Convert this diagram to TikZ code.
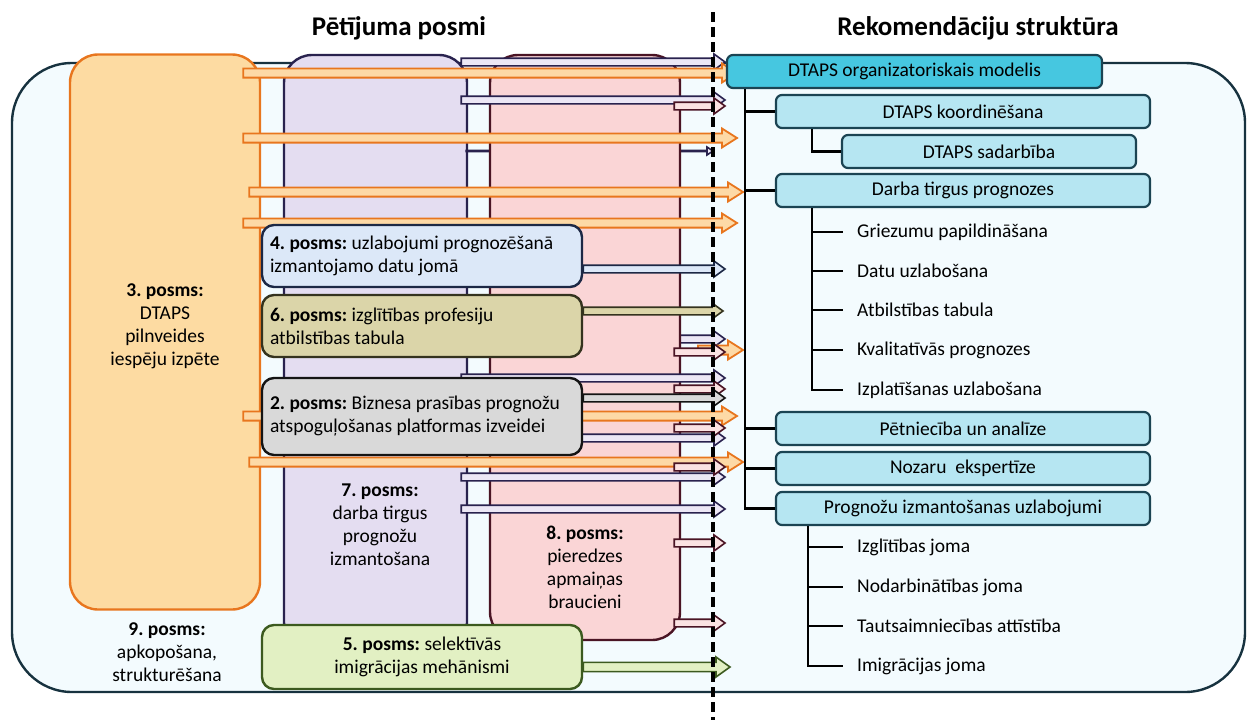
\documentclass[tikz,border=0pt]{standalone}
\usepackage{fontspec}
\setmainfont{Carlito}
\usetikzlibrary{calc,positioning}
\frenchspacing

\definecolor{outerF}{HTML}{F3FBFE}
\definecolor{outerB}{HTML}{17323F}
\definecolor{orangeB}{HTML}{E8761E}
\definecolor{orangeF}{HTML}{FDDBA2}
\definecolor{orangeA}{HTML}{FDD9A6}
\definecolor{lilacF}{HTML}{E4DDF1}
\definecolor{lilacB}{HTML}{29224E}
\definecolor{pinkF}{HTML}{FAD5D6}
\definecolor{pinkB}{HTML}{4A1424}
\definecolor{blueF}{HTML}{DCE8F8}
\definecolor{blueB}{HTML}{1C2845}
\definecolor{khakiF}{HTML}{DBD5A9}
\definecolor{khakiB}{HTML}{34331E}
\definecolor{grayF}{HTML}{D9D9D9}
\definecolor{grayB}{HTML}{141414}
\definecolor{greenF}{HTML}{E2F0C3}
\definecolor{greenB}{HTML}{3C5A1F}
\definecolor{cyanD}{HTML}{46C7E0}
\definecolor{cyanL}{HTML}{B6E6F2}
\definecolor{cyanB}{HTML}{1B4453}

\tikzset{
  arrbody/.store in=\arrbody, arrhead/.store in=\arrhead, arrlen/.store in=\arrlen,
  arrbody=3.8pt, arrhead=8pt, arrlen=11pt,
  orangearr/.style={draw=orangeB, fill=orangeA, line width=1.8pt, arrbody=4.6pt, arrhead=9.5pt, arrlen=15pt},
  lilacarr/.style={draw=lilacB, fill=lilacF!70!white, line width=1.6pt},
  pinkarr/.style={draw=pinkB, fill=pinkF!70!white, line width=1.6pt},
  bluearr/.style={draw=blueB, fill=blueF, line width=1.6pt},
  khakiarr/.style={draw=khakiB, fill=khakiF, line width=1.6pt},
  grayarr/.style={draw=grayB, fill=grayF, line width=1.6pt},
  greenarr/.style={draw=greenB, fill=greenF, line width=1.6pt, arrbody=4.6pt, arrhead=10pt, arrlen=14pt},
}

% hollow block arrow: style, start, end, y
\newcommand{\blockarrow}[4]{%
  \path (0,#4) coordinate (ba-y);
  \draw[#1] let \p1=(#2), \p2=(#3), \p3=(ba-y) in
    (\x1,\y3+\arrbody) -- (\x2-\arrlen,\y3+\arrbody) -- (\x2-\arrlen,\y3+\arrhead) -- (\x2,\y3)
    -- (\x2-\arrlen,\y3-\arrhead) -- (\x2-\arrlen,\y3-\arrbody) -- (\x1,\y3-\arrbody) -- cycle;}

\begin{document}
\begin{tikzpicture}[x=1pt,y=-1pt,
  every node/.append style={font=\fontsize{19.5}{23}\selectfont},
  header/.style={font=\fontsize{27}{30}\selectfont\bfseries},
  column/.style={line width=2.4pt, rounded corners=28pt, inner sep=0pt},
  posm/.style={draw, line width=2.4pt, rounded corners=12pt, minimum height=62pt,
    text width=304pt, inner xsep=8pt, align=flush left},
  reco/.style={draw=cyanB, fill=cyanL, line width=2.2pt, rounded corners=6pt,
    minimum height=33pt, inner sep=0pt},
  item/.style={anchor=west, inner xsep=14pt, inner ysep=0pt},
  tree/.style={line width=2.5pt},
  divider/.style={line width=3.5pt, dash pattern=on 10pt off 5pt}]
\useasboundingbox (0,0) rectangle (1248,720);

\node[header] (hleft) at (399,28) {Pētījuma posmi};
\node[header] (hright) at (978,28) {Rekomendāciju struktūra};

\node[draw=outerB, fill=outerF, line width=2.4pt, rounded corners=60pt,
  minimum width=1233pt, minimum height=629pt] (outer) at (628.5,377.5) {};
\node[align=center] (p9) at (167,652) {\textbf{9. posms:}\\apkopošana,\\strukturēšana};

% columns
\node[column, draw=orangeB, fill=orangeF, minimum width=190pt, minimum height=555pt] (p3) at (165,332) {};
\node[align=center] (p3lbl) at (165,326) {\textbf{3. posms:}\\DTAPS\\pilnveides\\iespēju izpēte};
\node[column, draw=lilacB, fill=lilacF, minimum width=183pt, minimum height=595pt] (p7) at (375.5,352.5) {};
\node[align=center] (p7lbl) at (380,525) {\textbf{7. posms:}\\darba tirgus\\prognožu\\izmantošana};

\coordinate (divtop) at (713,12);
\coordinate (divbot) at (713,720);

% arrows under the pink column
\blockarrow{lilacarr, arrbody=0.6pt, arrhead=4pt, arrlen=6pt}{[xshift=-2pt]p7.east}{divtop}{151}
\blockarrow{lilacarr}{[xshift=-7pt]p7.east}{[xshift=12pt]divtop}{339}

\node[column, draw=pinkB, fill=pinkF, minimum width=190pt, minimum height=585pt] (p8) at (585,347.5) {};
\node[align=center] (p8lbl) at (585,567) {\textbf{8. posms:}\\pieredzes\\apmaiņas\\braucieni};

\foreach \ay in {62,100,378,438,477,509}
  {\blockarrow{lilacarr}{[xshift=-7pt]p7.east}{[xshift=12pt]divtop}{\ay}}
\foreach \ay in {73,138,223,416}
  {\blockarrow{orangearr}{[xshift=-18pt]p3.east}{[xshift=24pt]divtop}{\ay}}
\foreach \ay in {192,462}
  {\blockarrow{orangearr}{[xshift=-12pt]p3.east}{[xshift=30pt]divtop}{\ay}}
\blockarrow{orangearr}{[xshift=-15pt]divtop}{[xshift=30pt]divtop}{350}
\foreach \ay in {106,352,389,428,467,543,623}
  {\blockarrow{pinkarr}{[xshift=-7pt]p8.east}{[xshift=12pt]divtop}{\ay}}

% study stages
\node[posm, draw=blueB, fill=blueF] (p4) at (422,256) {\textbf{4. posms:} uzlabojumi prognozēšanā\\izmantojamo datu jomā};
\node[posm, draw=khakiB, fill=khakiF] (p6) at (422,326) {\textbf{6. posms:} izglītības profesiju\\atbilstības tabula};
\node[posm, draw=grayB, fill=grayF, minimum height=77pt] (p2) at (422,416.5) {\textbf{2. posms:} Biznesa prasības prognožu\\atspoguļošanas platformas izveidei};
\node[posm, draw=greenB, fill=greenF, minimum height=64pt, align=flush center] (p5) at (422,657) {\textbf{5. posms:} selektīvās\\imigrācijas mehānismi};

\blockarrow{bluearr}{p4.east}{[xshift=12pt]divtop}{269}
\blockarrow{khakiarr}{p6.east}{[xshift=10pt]divtop}{311}
\blockarrow{grayarr}{p2.east}{[xshift=12pt]divtop}{398}
\blockarrow{greenarr}{p5.east}{[xshift=17pt]divtop}{667}

\draw[divider] (divtop) -- (divbot);

% recommendations
\node[reco, fill=cyanD, minimum width=375pt] (org) at (914.5,71.5) {DTAPS organizatoriskais modelis};
\node[reco, minimum width=374pt] (koord) at (963,111.5) {DTAPS koordinēšana};
\node[reco, minimum width=294pt] (sadarb) at (989,151.5) {DTAPS sadarbība};
\node[reco, minimum width=374pt] (darba) at (963,190.5) {Darba tirgus prognozes};
\node[item] (griez) at (843,232) {Griezumu papildināšana};
\node[item] (datu) at (843,271) {Datu uzlabošana};
\node[item] (atbilst) at (843,310) {Atbilstības tabula};
\node[item] (kval) at (843,350) {Kvalitatīvās prognozes};
\node[item] (izplat) at (843,390) {Izplatīšanas uzlabošana};
\node[reco, minimum width=374pt] (petn) at (963,428.5) {Pētniecība un analīze};
\node[reco, minimum width=374pt] (nozaru) at (963,468.5) {Nozaru\ \ ekspertīze};
\node[reco, minimum width=374pt] (progn) at (963,508.5) {Prognožu izmantošanas uzlabojumi};
\node[item] (izgl) at (843,547) {Izglītības joma};
\node[item] (nodarb) at (843,587) {Nodarbinātības joma};
\node[item] (tauts) at (843,626) {Tautsaimniecības attīstība};
\node[item] (imigr) at (843,666) {Imigrācijas joma};

\coordinate (trunk) at (745,89);
\draw[tree] (trunk) |- (progn.west);
\foreach \n in {koord,darba,petn,nozaru}
  \draw[tree] (trunk |- \n.west) -- (\n.west);
\coordinate (kstem) at (812,129);
\draw[tree] (kstem) |- (sadarb.west);
\coordinate (dstem) at (812,208);
\draw[tree] (dstem) |- (izplat.west);
\foreach \n in {griez,datu,atbilst,kval}
  \draw[tree] (dstem |- \n.west) -- (\n.west);
\coordinate (pstem) at (808,526);
\draw[tree] (pstem) |- (imigr.west);
\foreach \n in {izgl,nodarb,tauts}
  \draw[tree] (pstem |- \n.west) -- (\n.west);
\end{tikzpicture}
\end{document}
